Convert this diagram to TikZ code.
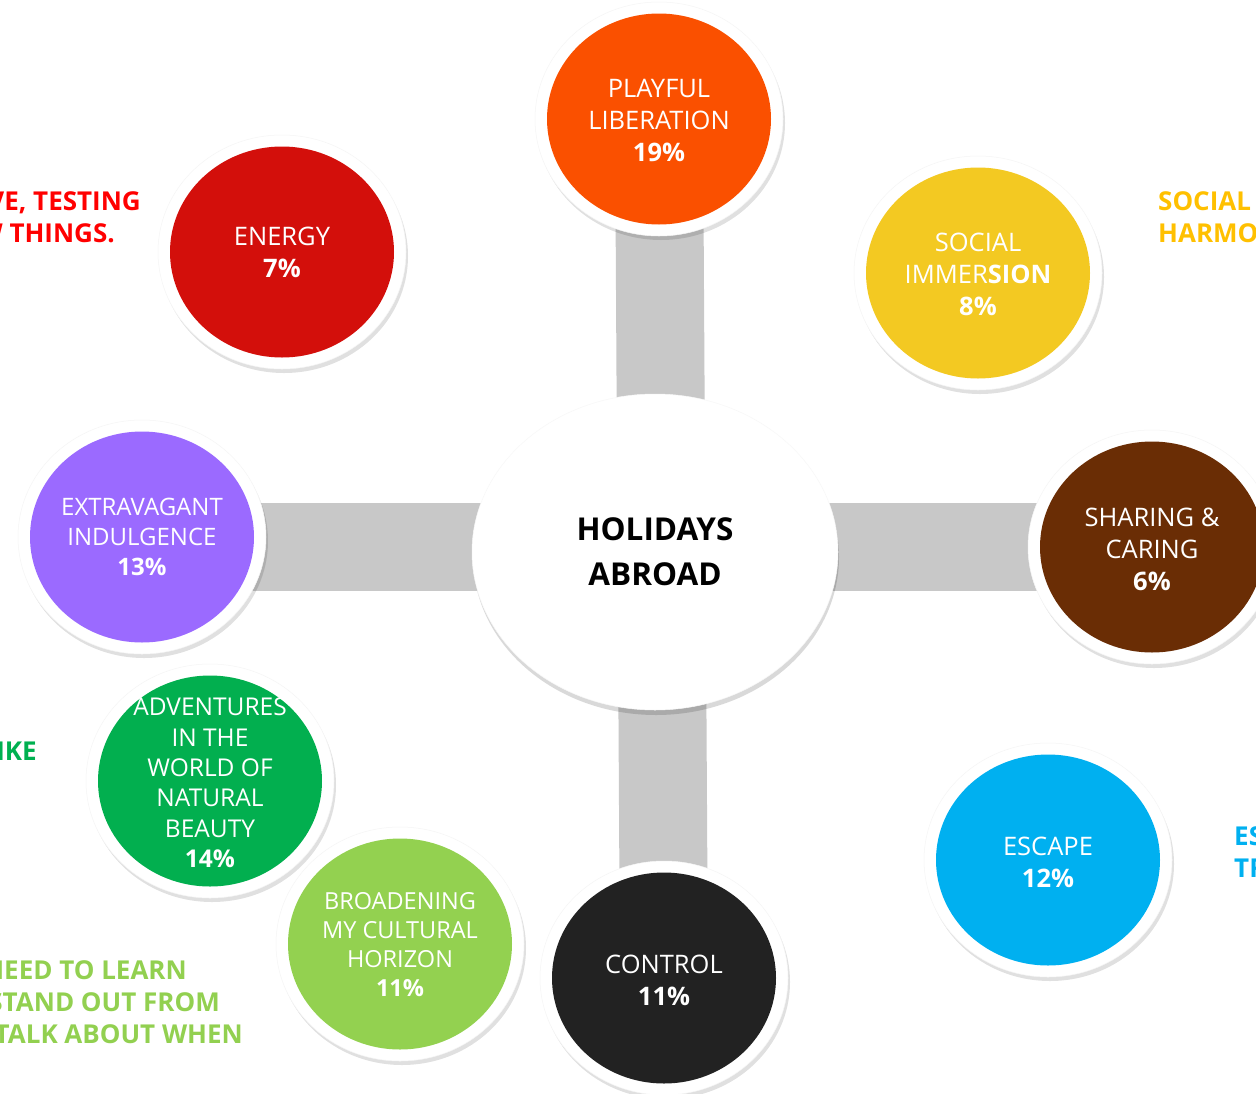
\documentclass[tikz,border=0pt]{standalone}
\usepackage{fontspec}
\setmainfont{Open Sans}
\usetikzlibrary{shapes.geometric,shadows}
\pgfdeclarelayer{bg}
\pgfsetlayers{bg,main}
\definecolor{cPlay}{RGB}{250,80,0}
\definecolor{cEnergy}{RGB}{211,15,11}
\definecolor{cSocial}{RGB}{243,201,34}
\definecolor{cExtra}{RGB}{155,106,255}
\definecolor{cShare}{RGB}{106,45,5}
\definecolor{cAdv}{RGB}{2,175,79}
\definecolor{cBroad}{RGB}{147,209,80}
\definecolor{cCtrl}{RGB}{34,34,34}
\definecolor{cEsc}{RGB}{0,176,240}
\definecolor{barg}{RGB}{200,200,200}
\definecolor{tRed}{RGB}{255,0,0}
\definecolor{tYel}{RGB}{255,192,0}
\definecolor{tGrn}{RGB}{0,176,80}
\definecolor{tBlu}{RGB}{0,176,240}
\definecolor{tLgr}{RGB}{146,208,80}
\begin{document}
\begin{tikzpicture}[x=1pt,y=-1pt,
  ring/.style={ellipse, fill=white, draw=black!4, line width=0.5pt,
    minimum width=248pt, minimum height=234pt, inner sep=0pt,
    drop shadow={shadow xshift=2pt, shadow yshift=-4pt, opacity=0.12, fill=black}},
  disc/.style={ellipse, minimum width=224pt, minimum height=211pt, inner sep=0pt, draw=none},
  txt/.style={text=white, align=center, inner sep=0pt, font=\fontsize{25.5}{32}\selectfont},
  hubnode/.style={ellipse, fill=white, draw=black!3, line width=0.5pt,
    minimum width=366pt, minimum height=316pt, inner sep=0pt, align=center,
    font=\fontsize{31.5}{45}\selectfont\bfseries,
    drop shadow={shadow xshift=1pt, shadow yshift=-5pt, opacity=0.15, fill=black}},
  side/.style={inner sep=0pt, font=\fontsize{26}{32}\selectfont\bfseries},
  bar/.style={line width=88pt, draw=barg, line cap=butt}]
\useasboundingbox (0,0) rectangle (1256,1093);
\clip (0,0) rectangle (1256,1093);

% hub
\node[hubnode] (hub) at (655,552) {HOLIDAYS\\ABROAD};

% rings and discs
\node[ring] (pl-r) at (659,119) {};
\node[disc, fill=cPlay] (pl) at (pl-r) {};
\node[txt] (pl-t) at (659,120) {PLAYFUL\\LIBERATION\\\textbf{19\%}};

\node[ring] (en-r) at (282,252) {};
\node[disc, fill=cEnergy] (en) at (en-r) {};
\node[txt] (en-t) at (282,252) {ENERGY\\\textbf{7\%}};

\node[ring] (so-r) at (978,273) {};
\node[disc, fill=cSocial] (so) at (so-r) {};
\node[txt] (so-t) at (978,274) {SOCIAL\\IMMER\textbf{SION}\\\textbf{8\%}};

\node[ring] (ex-r) at (142,537) {};
\node[disc, fill=cExtra] (ex) at (ex-r) {};
\node[txt, font=\fontsize{24}{30}\selectfont] (ex-t) at (142,537) {EXTRAVAGANT\\INDULGENCE\\\textbf{13\%}};

\node[ring] (sh-r) at (1152,547) {};
\node[disc, fill=cShare] (sh) at (sh-r) {};
\node[txt] (sh-t) at (1152,549) {SHARING \&\\CARING\\\textbf{6\%}};

\node[ring] (ad-r) at (210,781) {};
\node[disc, fill=cAdv] (ad) at (ad-r) {};
\node[txt, font=\fontsize{24.5}{30.4}\selectfont] (ad-t) at (210,783) {ADVENTURES\\IN THE\\WORLD OF\\NATURAL\\BEAUTY\\\textbf{14\%}};

\node[ring] (br-r) at (400,944) {};
\node[disc, fill=cBroad] (br) at (br-r) {};
\node[txt, font=\fontsize{23.5}{29}\selectfont] (br-t) at (400,944.5) {BROADENING\\MY CULTURAL\\HORIZON\\\textbf{11\%}};

\node[ring] (ct-r) at (664,978) {};
\node[disc, fill=cCtrl] (ct) at (ct-r) {};
\node[txt] (ct-t) at (664,980) {CONTROL\\\textbf{11\%}};

\node[ring] (es-r) at (1048,860) {};
\node[disc, fill=cEsc] (es) at (es-r) {};
\node[txt] (es-t) at (1048,862) {ESCAPE\\\textbf{12\%}};

% background and bars
\begin{pgfonlayer}{bg}
\fill[white] (0,0) rectangle (1256,1093);
\draw[bar] (pl) -- (ct);
\draw[bar] (ex.center |- sh.center) -- (sh.center);
\end{pgfonlayer}

% side texts (cut off at the edges, as in the reference)
\node[side, text=tRed, anchor=base east] (r1) at (141,210) {VE, TESTING};
\node[side, text=tRed, anchor=base east] (r2) at (115,242) {W THINGS.};
\node[side, text=tYel, anchor=base west] (y1) at (1158,210) {SOCIAL};
\node[side, text=tYel, anchor=base west] (y2) at (1158,242) {HARMONY};
\node[side, text=tGrn, anchor=base east] (g1) at (37,760) {LIKE};
\node[side, text=tBlu, anchor=base west] (b1) at (1234,845) {ESC};
\node[side, text=tBlu, anchor=base west] (b2) at (1234,877) {TRA};
\node[side, text=tLgr, anchor=base east] (l1) at (187,979) {NEED TO LEARN};
\node[side, text=tLgr, anchor=base east] (l2) at (220,1011) {STAND OUT FROM};
\node[side, text=tLgr, anchor=base east] (l3) at (243,1043) {TALK ABOUT WHEN};
\end{tikzpicture}
\end{document}
